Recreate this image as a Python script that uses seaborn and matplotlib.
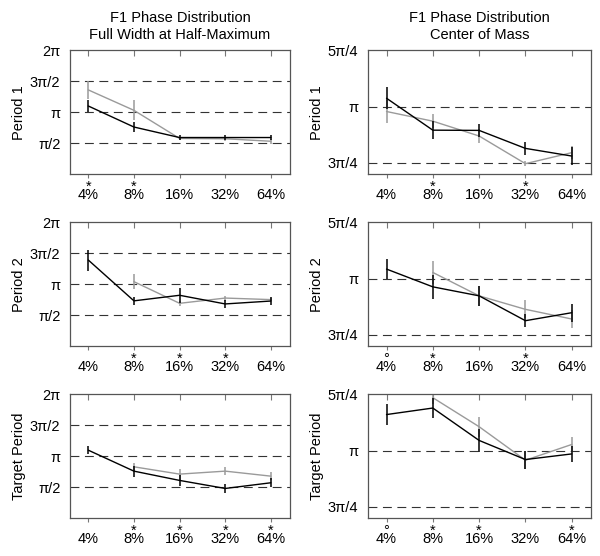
import numpy as np
import pandas as pd
import seaborn as sns
import matplotlib.pyplot as plt

# concentrations on the x axis
levels = ['4%', '8%', '16%', '32%', '64%']
nan = np.nan

# values in units of pi (black = first condition, grey = second condition)
fwhm_p1_black = [1.10, 0.76, 0.59, 0.59, 0.59]
fwhm_p1_black_err = [0.10, 0.08, 0.04, 0.04, 0.04]
fwhm_p1_grey = [1.36, 1.03, 0.575, 0.57, 0.53]
fwhm_p1_grey_err = [0.15, 0.16, 0.03, 0.03, 0.04]

com_p1_black = [1.037, 0.895, 0.894, 0.814, 0.78]
com_p1_black_err = [0.05, 0.04, 0.03, 0.03, 0.04]
com_p1_grey = [0.978, 0.935, 0.869, 0.746, 0.795]
com_p1_grey_err = [0.05, 0.03, 0.03, 0.01, 0.03]

fwhm_p2_black = [1.39, 0.73, 0.82, 0.68, 0.727]
fwhm_p2_black_err = [0.17, 0.07, 0.12, 0.07, 0.07]
fwhm_p2_grey = [nan, 1.04, 0.69, 0.775, 0.75]
fwhm_p2_grey_err = [nan, 0.12, 0.04, 0.04, 0.03]

com_p2_black = [1.042, 0.963, 0.923, 0.8125, 0.848]
com_p2_black_err = [0.045, 0.054, 0.045, 0.03, 0.04]
com_p2_grey = [nan, 1.027, 0.923, 0.863, 0.82]
com_p2_grey_err = [nan, 0.05, 0.045, 0.04, 0.04]

fwhm_t_black = [1.097, 0.758, 0.608, 0.478, 0.57]
fwhm_t_black_err = [0.065, 0.09, 0.09, 0.07, 0.07]
fwhm_t_grey = [nan, 0.828, 0.71, 0.758, 0.677]
fwhm_t_grey_err = [nan, 0.06, 0.09, 0.07, 0.07]

com_t_black = [1.16, 1.189, 1.045, 0.96, 0.985]
com_t_black_err = [0.045, 0.045, 0.05, 0.04, 0.035]
com_t_grey = [nan, 1.235, 1.106, 0.957, 1.027]
com_t_grey_err = [nan, 0.03, 0.045, 0.04, 0.035]

# significance markers above the x tick labels
marks_fwhm_p1 = ['*', '*', '', '', '']
marks_com_p1 = ['', '*', '', '*', '']
marks_fwhm_p2 = ['', '*', '*', '*', '']
marks_com_p2 = ['°', '*', '', '*', '']
marks_fwhm_t = ['', '*', '*', '*', '*']
marks_com_t = ['°', '*', '*', '', '*']

row_labels = ['Period 1', 'Period 2', 'Target Period']
col_titles = ['F1 Phase Distribution\nFull Width at Half-Maximum',
              'F1 Phase Distribution\nCenter of Mass']

fwhm_ticks = [0.5, 1.0, 1.5, 2.0]
fwhm_ticklabels = ['π/2', 'π', '3π/2', '2π']
fwhm_dashes = [0.5, 1.0, 1.5]
com_ticks = [0.75, 1.0, 1.25]
com_ticklabels = ['3π/4', 'π', '5π/4']
com_dashes = [0.75, 1.0]

panels = [
    [(fwhm_p1_black, fwhm_p1_black_err, fwhm_p1_grey, fwhm_p1_grey_err, marks_fwhm_p1),
     (com_p1_black, com_p1_black_err, com_p1_grey, com_p1_grey_err, marks_com_p1)],
    [(fwhm_p2_black, fwhm_p2_black_err, fwhm_p2_grey, fwhm_p2_grey_err, marks_fwhm_p2),
     (com_p2_black, com_p2_black_err, com_p2_grey, com_p2_grey_err, marks_com_p2)],
    [(fwhm_t_black, fwhm_t_black_err, fwhm_t_grey, fwhm_t_grey_err, marks_fwhm_t),
     (com_t_black, com_t_black_err, com_t_grey, com_t_grey_err, marks_com_t)],
]

sns.set_style('white')
plt.rcParams['font.family'] = ['Liberation Sans', 'DejaVu Sans']
plt.rcParams['text.color'] = 'black'
plt.rcParams['axes.labelcolor'] = 'black'
plt.rcParams['xtick.labelcolor'] = 'black'
plt.rcParams['ytick.labelcolor'] = 'black'

fig = plt.figure(figsize=(6.0, 5.56), dpi=100)

col_x = [0.1167, 0.6133]
col_w = [0.3667, 0.372]
row_y = [0.687, 0.3777, 0.0683]
row_h = 0.2225

colors = {'black': 'black', 'grey': '#9a9a9a'}
spine_col = '#555555'

for r in range(3):
    for c in range(2):
        black, black_err, grey, grey_err, marks = panels[r][c]
        ax = fig.add_axes([col_x[c], row_y[r], col_w[c], row_h])

        df = pd.DataFrame({
            'x': list(range(5)) * 2,
            'value': black + grey,
            'err': black_err + grey_err,
            'cond': ['black'] * 5 + ['grey'] * 5,
        })

        # reference dashed lines
        dashes = fwhm_dashes if c == 0 else com_dashes
        for d in dashes:
            ax.axhline(d, color='#333333', lw=0.8, ls=(0, (8, 5)), zorder=1)

        # grey first so black is on top
        for cond in ['grey', 'black']:
            sub = df[df['cond'] == cond].dropna()
            sns.lineplot(data=sub, x='x', y='value', color=colors[cond],
                         lw=1.0, ax=ax, legend=False, zorder=3 if cond == 'black' else 2)
            ax.vlines(sub['x'], sub['value'] - sub['err'], sub['value'] + sub['err'],
                      color=colors[cond], lw=1.1, zorder=3 if cond == 'black' else 2)

        ax.set_xlim(-0.4, 4.42)
        if c == 0:
            ax.set_ylim(0, 2.0)
            ax.set_yticks(fwhm_ticks)
            ax.set_yticklabels(fwhm_ticklabels)
        else:
            ax.set_ylim(0.70, 1.25)
            ax.set_yticks(com_ticks)
            ax.set_yticklabels(com_ticklabels)

        # mark and concentration share one tick label
        ax.set_xticks(range(5))
        ax.set_xticklabels([(m if m else ' ') + '\n' + lv for m, lv in zip(marks, levels)])
        for t in ax.get_xticklabels():
            t.set_linespacing(0.5)
        ax.set_xlabel('')
        ax.set_ylabel(row_labels[r], fontsize=10.5, labelpad=3)
        ax.tick_params(axis='x', direction='out', length=3, width=0.8,
                       color='#777777', labelsize=10.5, pad=1, bottom=True)
        ax.tick_params(axis='y', length=0, labelsize=10.5, pad=7)

        # inward ticks along the top edge
        top = ax.secondary_xaxis('top')
        top.set_xticks(range(5))
        top.tick_params(direction='in', length=4, width=0.8, color='#777777',
                        labeltop=False)
        top.spines['top'].set_visible(False)

        for s in ax.spines.values():
            s.set_visible(True)
            s.set_color(spine_col)
            s.set_linewidth(0.9)

        if r == 0:
            ax.set_title(col_titles[c], fontsize=10.5, pad=8, linespacing=1.25)

fig.savefig('out.png', dpi=100)
